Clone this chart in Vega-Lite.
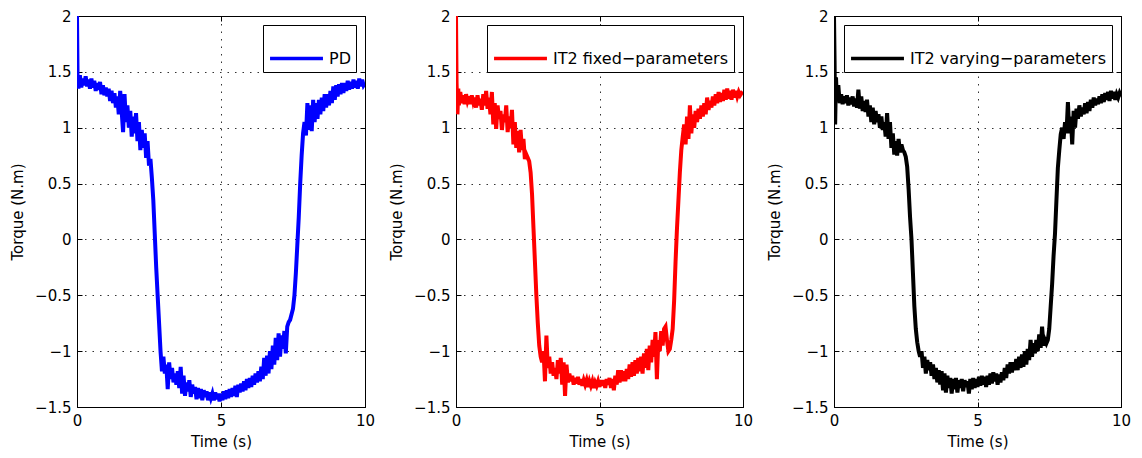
{
  "$schema": "https://vega.github.io/schema/vega-lite/v6.json",
  "padding": {"left": 10, "top": 9, "right": 5, "bottom": 5},
  "background": "white",
  "config": {
    "view": {"stroke": null},
    "font": "DejaVu Sans",
    "axis": {"labelFont": "DejaVu Sans", "titleFont": "DejaVu Sans", "labelFontSize": 15, "titleFontSize": 15, "titleFontWeight": "normal", "labelColor": "black", "titleColor": "black", "domainColor": "black", "tickColor": "black", "gridColor": "#333333", "gridDash": [1.5, 6], "gridOpacity": 1, "tickSize": -5, "domainWidth": 1, "labelPadding": 11, "format": "~f", "labelFlush": false},
    "legend": {"orient": "top-right", "offset": 9, "strokeColor": "black", "fillColor": "white", "padding": 5, "symbolType": "stroke", "symbolSize": 2800, "symbolStrokeWidth": 3.5, "labelFont": "DejaVu Sans", "labelFontSize": 16, "labelColor": "black", "labelLimit": 400, "title": null, "cornerRadius": 0}
  },
  "data": {"values": [
{"s":"PD","t":0,"y":2.0},{"s":"PD","t":0.02,"y":1.45},{"s":"PD","t":0.05,"y":1.35},{"s":"PD","t":0.1,"y":1.47},{"s":"PD","t":0.15,"y":1.36},{"s":"PD","t":0.2,"y":1.44},{"s":"PD","t":0.25,"y":1.38},{"s":"PD","t":0.3,"y":1.46},{"s":"PD","t":0.35,"y":1.37},{"s":"PD","t":0.4,"y":1.43},{"s":"PD","t":0.45,"y":1.35},{"s":"PD","t":0.5,"y":1.44},{"s":"PD","t":0.55,"y":1.36},{"s":"PD","t":0.6,"y":1.42},{"s":"PD","t":0.65,"y":1.33},{"s":"PD","t":0.7,"y":1.40},{"s":"PD","t":0.75,"y":1.34},{"s":"PD","t":0.8,"y":1.41},{"s":"PD","t":0.85,"y":1.30},{"s":"PD","t":0.9,"y":1.38},{"s":"PD","t":0.95,"y":1.29},{"s":"PD","t":1.0,"y":1.36},{"s":"PD","t":1.05,"y":1.28},{"s":"PD","t":1.1,"y":1.35},{"s":"PD","t":1.15,"y":1.24},{"s":"PD","t":1.2,"y":1.33},{"s":"PD","t":1.25,"y":1.22},{"s":"PD","t":1.3,"y":1.31},{"s":"PD","t":1.35,"y":1.18},{"s":"PD","t":1.4,"y":1.28},{"s":"PD","t":1.45,"y":1.12},{"s":"PD","t":1.5,"y":1.33},{"s":"PD","t":1.55,"y":1.15},{"s":"PD","t":1.6,"y":0.96},{"s":"PD","t":1.65,"y":1.30},{"s":"PD","t":1.7,"y":1.05},{"s":"PD","t":1.75,"y":1.20},{"s":"PD","t":1.8,"y":1.0},{"s":"PD","t":1.85,"y":1.15},{"s":"PD","t":1.9,"y":0.92},{"s":"PD","t":1.95,"y":1.10},{"s":"PD","t":2.0,"y":0.95},{"s":"PD","t":2.05,"y":1.13},{"s":"PD","t":2.1,"y":0.88},{"s":"PD","t":2.15,"y":1.05},{"s":"PD","t":2.2,"y":0.80},{"s":"PD","t":2.25,"y":0.98},{"s":"PD","t":2.3,"y":0.82},{"s":"PD","t":2.35,"y":0.95},{"s":"PD","t":2.4,"y":0.73},{"s":"PD","t":2.45,"y":0.88},{"s":"PD","t":2.5,"y":0.66},{"s":"PD","t":2.55,"y":0.72},{"s":"PD","t":2.6,"y":0.55},{"s":"PD","t":2.65,"y":0.35},{"s":"PD","t":2.7,"y":0.05},{"s":"PD","t":2.75,"y":-0.25},{"s":"PD","t":2.8,"y":-0.5},{"s":"PD","t":2.85,"y":-0.75},{"s":"PD","t":2.9,"y":-1.0},{"s":"PD","t":2.95,"y":-1.18},{"s":"PD","t":3.0,"y":-1.05},{"s":"PD","t":3.05,"y":-1.2},{"s":"PD","t":3.1,"y":-1.12},{"s":"PD","t":3.15,"y":-1.34},{"s":"PD","t":3.2,"y":-1.1},{"s":"PD","t":3.25,"y":-1.25},{"s":"PD","t":3.3,"y":-1.15},{"s":"PD","t":3.35,"y":-1.28},{"s":"PD","t":3.4,"y":-1.2},{"s":"PD","t":3.45,"y":-1.3},{"s":"PD","t":3.5,"y":-1.18},{"s":"PD","t":3.55,"y":-1.33},{"s":"PD","t":3.6,"y":-1.14},{"s":"PD","t":3.65,"y":-1.38},{"s":"PD","t":3.7,"y":-1.22},{"s":"PD","t":3.75,"y":-1.4},{"s":"PD","t":3.8,"y":-1.28},{"s":"PD","t":3.85,"y":-1.36},{"s":"PD","t":3.9,"y":-1.26},{"s":"PD","t":3.95,"y":-1.41},{"s":"PD","t":4.0,"y":-1.3},{"s":"PD","t":4.05,"y":-1.38},{"s":"PD","t":4.1,"y":-1.32},{"s":"PD","t":4.15,"y":-1.43},{"s":"PD","t":4.2,"y":-1.33},{"s":"PD","t":4.25,"y":-1.42},{"s":"PD","t":4.3,"y":-1.34},{"s":"PD","t":4.35,"y":-1.44},{"s":"PD","t":4.4,"y":-1.35},{"s":"PD","t":4.45,"y":-1.41},{"s":"PD","t":4.5,"y":-1.36},{"s":"PD","t":4.55,"y":-1.44},{"s":"PD","t":4.6,"y":-1.37},{"s":"PD","t":4.65,"y":-1.42},{"s":"PD","t":4.7,"y":-1.38},{"s":"PD","t":4.75,"y":-1.44},{"s":"PD","t":4.8,"y":-1.37},{"s":"PD","t":4.85,"y":-1.43},{"s":"PD","t":4.9,"y":-1.38},{"s":"PD","t":4.95,"y":-1.45},{"s":"PD","t":5.0,"y":-1.38},{"s":"PD","t":5.05,"y":-1.44},{"s":"PD","t":5.1,"y":-1.36},{"s":"PD","t":5.15,"y":-1.43},{"s":"PD","t":5.2,"y":-1.35},{"s":"PD","t":5.25,"y":-1.42},{"s":"PD","t":5.3,"y":-1.34},{"s":"PD","t":5.35,"y":-1.41},{"s":"PD","t":5.4,"y":-1.33},{"s":"PD","t":5.45,"y":-1.4},{"s":"PD","t":5.5,"y":-1.31},{"s":"PD","t":5.55,"y":-1.41},{"s":"PD","t":5.6,"y":-1.3},{"s":"PD","t":5.65,"y":-1.37},{"s":"PD","t":5.7,"y":-1.29},{"s":"PD","t":5.75,"y":-1.36},{"s":"PD","t":5.8,"y":-1.27},{"s":"PD","t":5.85,"y":-1.35},{"s":"PD","t":5.9,"y":-1.25},{"s":"PD","t":5.95,"y":-1.33},{"s":"PD","t":6.0,"y":-1.24},{"s":"PD","t":6.05,"y":-1.32},{"s":"PD","t":6.1,"y":-1.22},{"s":"PD","t":6.15,"y":-1.3},{"s":"PD","t":6.2,"y":-1.2},{"s":"PD","t":6.25,"y":-1.28},{"s":"PD","t":6.3,"y":-1.18},{"s":"PD","t":6.35,"y":-1.27},{"s":"PD","t":6.4,"y":-1.14},{"s":"PD","t":6.45,"y":-1.25},{"s":"PD","t":6.5,"y":-1.06},{"s":"PD","t":6.55,"y":-1.22},{"s":"PD","t":6.6,"y":-1.04},{"s":"PD","t":6.65,"y":-1.2},{"s":"PD","t":6.7,"y":-1.0},{"s":"PD","t":6.75,"y":-1.16},{"s":"PD","t":6.8,"y":-0.95},{"s":"PD","t":6.85,"y":-1.12},{"s":"PD","t":6.9,"y":-0.88},{"s":"PD","t":6.95,"y":-1.08},{"s":"PD","t":7.0,"y":-0.84},{"s":"PD","t":7.05,"y":-1.05},{"s":"PD","t":7.1,"y":-0.86},{"s":"PD","t":7.15,"y":-0.98},{"s":"PD","t":7.2,"y":-0.82},{"s":"PD","t":7.25,"y":-1.02},{"s":"PD","t":7.3,"y":-0.78},{"s":"PD","t":7.35,"y":-0.74},{"s":"PD","t":7.4,"y":-0.72},{"s":"PD","t":7.5,"y":-0.62},{"s":"PD","t":7.55,"y":-0.5},{"s":"PD","t":7.6,"y":-0.3},{"s":"PD","t":7.65,"y":-0.05},{"s":"PD","t":7.7,"y":0.2},{"s":"PD","t":7.75,"y":0.5},{"s":"PD","t":7.8,"y":0.75},{"s":"PD","t":7.85,"y":0.95},{"s":"PD","t":7.9,"y":1.05},{"s":"PD","t":7.95,"y":0.93},{"s":"PD","t":8.0,"y":1.22},{"s":"PD","t":8.05,"y":0.98},{"s":"PD","t":8.1,"y":1.2},{"s":"PD","t":8.15,"y":0.97},{"s":"PD","t":8.2,"y":1.25},{"s":"PD","t":8.25,"y":1.05},{"s":"PD","t":8.3,"y":1.22},{"s":"PD","t":8.35,"y":1.08},{"s":"PD","t":8.4,"y":1.25},{"s":"PD","t":8.45,"y":1.12},{"s":"PD","t":8.5,"y":1.27},{"s":"PD","t":8.55,"y":1.15},{"s":"PD","t":8.6,"y":1.3},{"s":"PD","t":8.65,"y":1.18},{"s":"PD","t":8.7,"y":1.3},{"s":"PD","t":8.75,"y":1.2},{"s":"PD","t":8.8,"y":1.33},{"s":"PD","t":8.85,"y":1.22},{"s":"PD","t":8.9,"y":1.37},{"s":"PD","t":8.95,"y":1.25},{"s":"PD","t":9.0,"y":1.38},{"s":"PD","t":9.05,"y":1.28},{"s":"PD","t":9.1,"y":1.39},{"s":"PD","t":9.15,"y":1.3},{"s":"PD","t":9.2,"y":1.4},{"s":"PD","t":9.25,"y":1.31},{"s":"PD","t":9.3,"y":1.4},{"s":"PD","t":9.35,"y":1.33},{"s":"PD","t":9.4,"y":1.42},{"s":"PD","t":9.45,"y":1.34},{"s":"PD","t":9.5,"y":1.41},{"s":"PD","t":9.55,"y":1.35},{"s":"PD","t":9.6,"y":1.43},{"s":"PD","t":9.65,"y":1.36},{"s":"PD","t":9.7,"y":1.42},{"s":"PD","t":9.75,"y":1.35},{"s":"PD","t":9.8,"y":1.44},{"s":"PD","t":9.85,"y":1.37},{"s":"PD","t":9.9,"y":1.43},{"s":"PD","t":9.95,"y":1.38},{"s":"PD","t":10.0,"y":1.4},
{"s":"IT2 fixed−parameters","t":0,"y":2.0},{"s":"IT2 fixed−parameters","t":0.02,"y":1.4},{"s":"IT2 fixed−parameters","t":0.05,"y":1.12},{"s":"IT2 fixed−parameters","t":0.08,"y":1.35},{"s":"IT2 fixed−parameters","t":0.1,"y":1.2},{"s":"IT2 fixed−parameters","t":0.15,"y":1.32},{"s":"IT2 fixed−parameters","t":0.2,"y":1.22},{"s":"IT2 fixed−parameters","t":0.25,"y":1.29},{"s":"IT2 fixed−parameters","t":0.3,"y":1.21},{"s":"IT2 fixed−parameters","t":0.35,"y":1.3},{"s":"IT2 fixed−parameters","t":0.4,"y":1.24},{"s":"IT2 fixed−parameters","t":0.45,"y":1.28},{"s":"IT2 fixed−parameters","t":0.5,"y":1.21},{"s":"IT2 fixed−parameters","t":0.55,"y":1.29},{"s":"IT2 fixed−parameters","t":0.6,"y":1.23},{"s":"IT2 fixed−parameters","t":0.65,"y":1.27},{"s":"IT2 fixed−parameters","t":0.7,"y":1.18},{"s":"IT2 fixed−parameters","t":0.75,"y":1.29},{"s":"IT2 fixed−parameters","t":0.8,"y":1.2},{"s":"IT2 fixed−parameters","t":0.85,"y":1.26},{"s":"IT2 fixed−parameters","t":0.9,"y":1.16},{"s":"IT2 fixed−parameters","t":0.95,"y":1.3},{"s":"IT2 fixed−parameters","t":1.0,"y":1.2},{"s":"IT2 fixed−parameters","t":1.05,"y":1.33},{"s":"IT2 fixed−parameters","t":1.1,"y":1.17},{"s":"IT2 fixed−parameters","t":1.15,"y":1.27},{"s":"IT2 fixed−parameters","t":1.2,"y":1.12},{"s":"IT2 fixed−parameters","t":1.25,"y":1.32},{"s":"IT2 fixed−parameters","t":1.3,"y":1.03},{"s":"IT2 fixed−parameters","t":1.35,"y":1.22},{"s":"IT2 fixed−parameters","t":1.4,"y":0.99},{"s":"IT2 fixed−parameters","t":1.45,"y":1.2},{"s":"IT2 fixed−parameters","t":1.5,"y":1.08},{"s":"IT2 fixed−parameters","t":1.55,"y":1.15},{"s":"IT2 fixed−parameters","t":1.6,"y":0.98},{"s":"IT2 fixed−parameters","t":1.65,"y":1.12},{"s":"IT2 fixed−parameters","t":1.7,"y":1.05},{"s":"IT2 fixed−parameters","t":1.75,"y":1.2},{"s":"IT2 fixed−parameters","t":1.8,"y":0.96},{"s":"IT2 fixed−parameters","t":1.85,"y":1.1},{"s":"IT2 fixed−parameters","t":1.9,"y":1.0},{"s":"IT2 fixed−parameters","t":1.95,"y":1.16},{"s":"IT2 fixed−parameters","t":2.0,"y":0.85},{"s":"IT2 fixed−parameters","t":2.05,"y":1.05},{"s":"IT2 fixed−parameters","t":2.1,"y":0.82},{"s":"IT2 fixed−parameters","t":2.15,"y":0.97},{"s":"IT2 fixed−parameters","t":2.2,"y":0.78},{"s":"IT2 fixed−parameters","t":2.25,"y":0.98},{"s":"IT2 fixed−parameters","t":2.3,"y":0.8},{"s":"IT2 fixed−parameters","t":2.35,"y":0.9},{"s":"IT2 fixed−parameters","t":2.4,"y":0.72},{"s":"IT2 fixed−parameters","t":2.45,"y":0.76},{"s":"IT2 fixed−parameters","t":2.5,"y":0.73},{"s":"IT2 fixed−parameters","t":2.55,"y":0.7},{"s":"IT2 fixed−parameters","t":2.6,"y":0.6},{"s":"IT2 fixed−parameters","t":2.65,"y":0.4},{"s":"IT2 fixed−parameters","t":2.7,"y":0.1},{"s":"IT2 fixed−parameters","t":2.75,"y":-0.2},{"s":"IT2 fixed−parameters","t":2.8,"y":-0.5},{"s":"IT2 fixed−parameters","t":2.85,"y":-0.75},{"s":"IT2 fixed−parameters","t":2.9,"y":-0.95},{"s":"IT2 fixed−parameters","t":2.95,"y":-1.05},{"s":"IT2 fixed−parameters","t":3.0,"y":-1.1},{"s":"IT2 fixed−parameters","t":3.05,"y":-1.0},{"s":"IT2 fixed−parameters","t":3.1,"y":-1.27},{"s":"IT2 fixed−parameters","t":3.15,"y":-0.86},{"s":"IT2 fixed−parameters","t":3.2,"y":-1.15},{"s":"IT2 fixed−parameters","t":3.25,"y":-1.05},{"s":"IT2 fixed−parameters","t":3.3,"y":-1.2},{"s":"IT2 fixed−parameters","t":3.35,"y":-1.1},{"s":"IT2 fixed−parameters","t":3.4,"y":-1.22},{"s":"IT2 fixed−parameters","t":3.45,"y":-1.15},{"s":"IT2 fixed−parameters","t":3.5,"y":-1.25},{"s":"IT2 fixed−parameters","t":3.55,"y":-1.08},{"s":"IT2 fixed−parameters","t":3.6,"y":-1.2},{"s":"IT2 fixed−parameters","t":3.65,"y":-1.06},{"s":"IT2 fixed−parameters","t":3.7,"y":-1.3},{"s":"IT2 fixed−parameters","t":3.75,"y":-1.1},{"s":"IT2 fixed−parameters","t":3.8,"y":-1.4},{"s":"IT2 fixed−parameters","t":3.85,"y":-1.12},{"s":"IT2 fixed−parameters","t":3.9,"y":-1.28},{"s":"IT2 fixed−parameters","t":3.95,"y":-1.2},{"s":"IT2 fixed−parameters","t":4.0,"y":-1.27},{"s":"IT2 fixed−parameters","t":4.05,"y":-1.22},{"s":"IT2 fixed−parameters","t":4.1,"y":-1.3},{"s":"IT2 fixed−parameters","t":4.15,"y":-1.24},{"s":"IT2 fixed−parameters","t":4.2,"y":-1.29},{"s":"IT2 fixed−parameters","t":4.25,"y":-1.23},{"s":"IT2 fixed−parameters","t":4.3,"y":-1.3},{"s":"IT2 fixed−parameters","t":4.35,"y":-1.25},{"s":"IT2 fixed−parameters","t":4.4,"y":-1.31},{"s":"IT2 fixed−parameters","t":4.45,"y":-1.26},{"s":"IT2 fixed−parameters","t":4.5,"y":-1.3},{"s":"IT2 fixed−parameters","t":4.55,"y":-1.26},{"s":"IT2 fixed−parameters","t":4.6,"y":-1.32},{"s":"IT2 fixed−parameters","t":4.65,"y":-1.27},{"s":"IT2 fixed−parameters","t":4.7,"y":-1.31},{"s":"IT2 fixed−parameters","t":4.75,"y":-1.27},{"s":"IT2 fixed−parameters","t":4.8,"y":-1.33},{"s":"IT2 fixed−parameters","t":4.85,"y":-1.28},{"s":"IT2 fixed−parameters","t":4.9,"y":-1.31},{"s":"IT2 fixed−parameters","t":4.95,"y":-1.27},{"s":"IT2 fixed−parameters","t":5.0,"y":-1.32},{"s":"IT2 fixed−parameters","t":5.05,"y":-1.26},{"s":"IT2 fixed−parameters","t":5.1,"y":-1.31},{"s":"IT2 fixed−parameters","t":5.15,"y":-1.26},{"s":"IT2 fixed−parameters","t":5.2,"y":-1.33},{"s":"IT2 fixed−parameters","t":5.25,"y":-1.25},{"s":"IT2 fixed−parameters","t":5.3,"y":-1.3},{"s":"IT2 fixed−parameters","t":5.35,"y":-1.24},{"s":"IT2 fixed−parameters","t":5.4,"y":-1.33},{"s":"IT2 fixed−parameters","t":5.45,"y":-1.25},{"s":"IT2 fixed−parameters","t":5.5,"y":-1.35},{"s":"IT2 fixed−parameters","t":5.55,"y":-1.22},{"s":"IT2 fixed−parameters","t":5.6,"y":-1.3},{"s":"IT2 fixed−parameters","t":5.65,"y":-1.17},{"s":"IT2 fixed−parameters","t":5.7,"y":-1.28},{"s":"IT2 fixed−parameters","t":5.75,"y":-1.17},{"s":"IT2 fixed−parameters","t":5.8,"y":-1.27},{"s":"IT2 fixed−parameters","t":5.85,"y":-1.18},{"s":"IT2 fixed−parameters","t":5.9,"y":-1.27},{"s":"IT2 fixed−parameters","t":5.95,"y":-1.16},{"s":"IT2 fixed−parameters","t":6.0,"y":-1.25},{"s":"IT2 fixed−parameters","t":6.05,"y":-1.12},{"s":"IT2 fixed−parameters","t":6.1,"y":-1.23},{"s":"IT2 fixed−parameters","t":6.15,"y":-1.1},{"s":"IT2 fixed−parameters","t":6.2,"y":-1.22},{"s":"IT2 fixed−parameters","t":6.25,"y":-1.08},{"s":"IT2 fixed−parameters","t":6.3,"y":-1.2},{"s":"IT2 fixed−parameters","t":6.35,"y":-1.06},{"s":"IT2 fixed−parameters","t":6.4,"y":-1.18},{"s":"IT2 fixed−parameters","t":6.45,"y":-1.05},{"s":"IT2 fixed−parameters","t":6.5,"y":-1.2},{"s":"IT2 fixed−parameters","t":6.55,"y":-1.02},{"s":"IT2 fixed−parameters","t":6.6,"y":-1.15},{"s":"IT2 fixed−parameters","t":6.65,"y":-0.98},{"s":"IT2 fixed−parameters","t":6.7,"y":-1.17},{"s":"IT2 fixed−parameters","t":6.75,"y":-0.95},{"s":"IT2 fixed−parameters","t":6.8,"y":-1.1},{"s":"IT2 fixed−parameters","t":6.85,"y":-0.9},{"s":"IT2 fixed−parameters","t":6.9,"y":-1.05},{"s":"IT2 fixed−parameters","t":6.95,"y":-0.83},{"s":"IT2 fixed−parameters","t":7.0,"y":-1.25},{"s":"IT2 fixed−parameters","t":7.05,"y":-0.9},{"s":"IT2 fixed−parameters","t":7.1,"y":-1.0},{"s":"IT2 fixed−parameters","t":7.15,"y":-0.82},{"s":"IT2 fixed−parameters","t":7.2,"y":-0.95},{"s":"IT2 fixed−parameters","t":7.25,"y":-0.8},{"s":"IT2 fixed−parameters","t":7.3,"y":-0.78},{"s":"IT2 fixed−parameters","t":7.35,"y":-0.9},{"s":"IT2 fixed−parameters","t":7.4,"y":-1.0},{"s":"IT2 fixed−parameters","t":7.45,"y":-0.98},{"s":"IT2 fixed−parameters","t":7.5,"y":-0.9},{"s":"IT2 fixed−parameters","t":7.55,"y":-0.8},{"s":"IT2 fixed−parameters","t":7.6,"y":-0.55},{"s":"IT2 fixed−parameters","t":7.65,"y":-0.2},{"s":"IT2 fixed−parameters","t":7.7,"y":0.1},{"s":"IT2 fixed−parameters","t":7.75,"y":0.35},{"s":"IT2 fixed−parameters","t":7.8,"y":0.6},{"s":"IT2 fixed−parameters","t":7.85,"y":0.8},{"s":"IT2 fixed−parameters","t":7.9,"y":0.92},{"s":"IT2 fixed−parameters","t":7.95,"y":1.03},{"s":"IT2 fixed−parameters","t":8.0,"y":0.85},{"s":"IT2 fixed−parameters","t":8.05,"y":1.1},{"s":"IT2 fixed−parameters","t":8.1,"y":0.9},{"s":"IT2 fixed−parameters","t":8.15,"y":1.2},{"s":"IT2 fixed−parameters","t":8.2,"y":0.95},{"s":"IT2 fixed−parameters","t":8.25,"y":1.12},{"s":"IT2 fixed−parameters","t":8.3,"y":1.0},{"s":"IT2 fixed−parameters","t":8.35,"y":1.15},{"s":"IT2 fixed−parameters","t":8.4,"y":1.05},{"s":"IT2 fixed−parameters","t":8.45,"y":1.17},{"s":"IT2 fixed−parameters","t":8.5,"y":1.08},{"s":"IT2 fixed−parameters","t":8.55,"y":1.2},{"s":"IT2 fixed−parameters","t":8.6,"y":1.1},{"s":"IT2 fixed−parameters","t":8.65,"y":1.22},{"s":"IT2 fixed−parameters","t":8.7,"y":1.12},{"s":"IT2 fixed−parameters","t":8.75,"y":1.27},{"s":"IT2 fixed−parameters","t":8.8,"y":1.16},{"s":"IT2 fixed−parameters","t":8.85,"y":1.24},{"s":"IT2 fixed−parameters","t":8.9,"y":1.18},{"s":"IT2 fixed−parameters","t":8.95,"y":1.28},{"s":"IT2 fixed−parameters","t":9.0,"y":1.2},{"s":"IT2 fixed−parameters","t":9.05,"y":1.3},{"s":"IT2 fixed−parameters","t":9.1,"y":1.22},{"s":"IT2 fixed−parameters","t":9.15,"y":1.32},{"s":"IT2 fixed−parameters","t":9.2,"y":1.23},{"s":"IT2 fixed−parameters","t":9.25,"y":1.31},{"s":"IT2 fixed−parameters","t":9.3,"y":1.24},{"s":"IT2 fixed−parameters","t":9.35,"y":1.34},{"s":"IT2 fixed−parameters","t":9.4,"y":1.25},{"s":"IT2 fixed−parameters","t":9.45,"y":1.35},{"s":"IT2 fixed−parameters","t":9.5,"y":1.26},{"s":"IT2 fixed−parameters","t":9.55,"y":1.33},{"s":"IT2 fixed−parameters","t":9.6,"y":1.25},{"s":"IT2 fixed−parameters","t":9.65,"y":1.34},{"s":"IT2 fixed−parameters","t":9.7,"y":1.27},{"s":"IT2 fixed−parameters","t":9.75,"y":1.33},{"s":"IT2 fixed−parameters","t":9.8,"y":1.28},{"s":"IT2 fixed−parameters","t":9.85,"y":1.32},{"s":"IT2 fixed−parameters","t":9.9,"y":1.29},{"s":"IT2 fixed−parameters","t":9.95,"y":1.31},{"s":"IT2 fixed−parameters","t":10.0,"y":1.3},
{"s":"IT2 varying−parameters","t":0,"y":2.0},{"s":"IT2 varying−parameters","t":0.02,"y":1.6},{"s":"IT2 varying−parameters","t":0.04,"y":1.03},{"s":"IT2 varying−parameters","t":0.07,"y":1.45},{"s":"IT2 varying−parameters","t":0.1,"y":1.25},{"s":"IT2 varying−parameters","t":0.15,"y":1.38},{"s":"IT2 varying−parameters","t":0.2,"y":1.22},{"s":"IT2 varying−parameters","t":0.25,"y":1.3},{"s":"IT2 varying−parameters","t":0.3,"y":1.21},{"s":"IT2 varying−parameters","t":0.35,"y":1.28},{"s":"IT2 varying−parameters","t":0.4,"y":1.22},{"s":"IT2 varying−parameters","t":0.45,"y":1.29},{"s":"IT2 varying−parameters","t":0.5,"y":1.2},{"s":"IT2 varying−parameters","t":0.55,"y":1.27},{"s":"IT2 varying−parameters","t":0.6,"y":1.21},{"s":"IT2 varying−parameters","t":0.65,"y":1.28},{"s":"IT2 varying−parameters","t":0.7,"y":1.19},{"s":"IT2 varying−parameters","t":0.75,"y":1.26},{"s":"IT2 varying−parameters","t":0.8,"y":1.18},{"s":"IT2 varying−parameters","t":0.85,"y":1.34},{"s":"IT2 varying−parameters","t":0.9,"y":1.17},{"s":"IT2 varying−parameters","t":0.95,"y":1.28},{"s":"IT2 varying−parameters","t":1.0,"y":1.15},{"s":"IT2 varying−parameters","t":1.05,"y":1.24},{"s":"IT2 varying−parameters","t":1.1,"y":1.14},{"s":"IT2 varying−parameters","t":1.15,"y":1.25},{"s":"IT2 varying−parameters","t":1.2,"y":1.1},{"s":"IT2 varying−parameters","t":1.25,"y":1.2},{"s":"IT2 varying−parameters","t":1.3,"y":1.05},{"s":"IT2 varying−parameters","t":1.35,"y":1.18},{"s":"IT2 varying−parameters","t":1.4,"y":1.03},{"s":"IT2 varying−parameters","t":1.45,"y":1.15},{"s":"IT2 varying−parameters","t":1.5,"y":1.05},{"s":"IT2 varying−parameters","t":1.55,"y":1.12},{"s":"IT2 varying−parameters","t":1.6,"y":1.0},{"s":"IT2 varying−parameters","t":1.65,"y":1.1},{"s":"IT2 varying−parameters","t":1.7,"y":0.98},{"s":"IT2 varying−parameters","t":1.75,"y":1.05},{"s":"IT2 varying−parameters","t":1.8,"y":0.92},{"s":"IT2 varying−parameters","t":1.85,"y":1.13},{"s":"IT2 varying−parameters","t":1.9,"y":0.9},{"s":"IT2 varying−parameters","t":1.95,"y":1.05},{"s":"IT2 varying−parameters","t":2.0,"y":0.82},{"s":"IT2 varying−parameters","t":2.05,"y":0.95},{"s":"IT2 varying−parameters","t":2.1,"y":0.76},{"s":"IT2 varying−parameters","t":2.15,"y":0.88},{"s":"IT2 varying−parameters","t":2.2,"y":0.75},{"s":"IT2 varying−parameters","t":2.25,"y":0.9},{"s":"IT2 varying−parameters","t":2.3,"y":0.78},{"s":"IT2 varying−parameters","t":2.35,"y":0.85},{"s":"IT2 varying−parameters","t":2.4,"y":0.8},{"s":"IT2 varying−parameters","t":2.45,"y":0.78},{"s":"IT2 varying−parameters","t":2.5,"y":0.74},{"s":"IT2 varying−parameters","t":2.55,"y":0.65},{"s":"IT2 varying−parameters","t":2.6,"y":0.45},{"s":"IT2 varying−parameters","t":2.65,"y":0.2},{"s":"IT2 varying−parameters","t":2.7,"y":0.0},{"s":"IT2 varying−parameters","t":2.75,"y":-0.3},{"s":"IT2 varying−parameters","t":2.8,"y":-0.6},{"s":"IT2 varying−parameters","t":2.85,"y":-0.8},{"s":"IT2 varying−parameters","t":2.9,"y":-0.92},{"s":"IT2 varying−parameters","t":2.95,"y":-1.0},{"s":"IT2 varying−parameters","t":3.0,"y":-1.05},{"s":"IT2 varying−parameters","t":3.05,"y":-1.0},{"s":"IT2 varying−parameters","t":3.1,"y":-1.15},{"s":"IT2 varying−parameters","t":3.15,"y":-1.05},{"s":"IT2 varying−parameters","t":3.2,"y":-1.2},{"s":"IT2 varying−parameters","t":3.25,"y":-1.08},{"s":"IT2 varying−parameters","t":3.3,"y":-1.17},{"s":"IT2 varying−parameters","t":3.35,"y":-1.1},{"s":"IT2 varying−parameters","t":3.4,"y":-1.22},{"s":"IT2 varying−parameters","t":3.45,"y":-1.12},{"s":"IT2 varying−parameters","t":3.5,"y":-1.25},{"s":"IT2 varying−parameters","t":3.55,"y":-1.15},{"s":"IT2 varying−parameters","t":3.6,"y":-1.28},{"s":"IT2 varying−parameters","t":3.65,"y":-1.17},{"s":"IT2 varying−parameters","t":3.7,"y":-1.3},{"s":"IT2 varying−parameters","t":3.75,"y":-1.18},{"s":"IT2 varying−parameters","t":3.8,"y":-1.35},{"s":"IT2 varying−parameters","t":3.85,"y":-1.2},{"s":"IT2 varying−parameters","t":3.9,"y":-1.37},{"s":"IT2 varying−parameters","t":3.95,"y":-1.22},{"s":"IT2 varying−parameters","t":4.0,"y":-1.33},{"s":"IT2 varying−parameters","t":4.05,"y":-1.24},{"s":"IT2 varying−parameters","t":4.1,"y":-1.38},{"s":"IT2 varying−parameters","t":4.15,"y":-1.25},{"s":"IT2 varying−parameters","t":4.2,"y":-1.34},{"s":"IT2 varying−parameters","t":4.25,"y":-1.24},{"s":"IT2 varying−parameters","t":4.3,"y":-1.37},{"s":"IT2 varying−parameters","t":4.35,"y":-1.26},{"s":"IT2 varying−parameters","t":4.4,"y":-1.33},{"s":"IT2 varying−parameters","t":4.45,"y":-1.25},{"s":"IT2 varying−parameters","t":4.5,"y":-1.36},{"s":"IT2 varying−parameters","t":4.55,"y":-1.26},{"s":"IT2 varying−parameters","t":4.6,"y":-1.32},{"s":"IT2 varying−parameters","t":4.65,"y":-1.27},{"s":"IT2 varying−parameters","t":4.7,"y":-1.38},{"s":"IT2 varying−parameters","t":4.75,"y":-1.25},{"s":"IT2 varying−parameters","t":4.8,"y":-1.34},{"s":"IT2 varying−parameters","t":4.85,"y":-1.24},{"s":"IT2 varying−parameters","t":4.9,"y":-1.33},{"s":"IT2 varying−parameters","t":4.95,"y":-1.25},{"s":"IT2 varying−parameters","t":5.0,"y":-1.32},{"s":"IT2 varying−parameters","t":5.05,"y":-1.23},{"s":"IT2 varying−parameters","t":5.1,"y":-1.31},{"s":"IT2 varying−parameters","t":5.15,"y":-1.22},{"s":"IT2 varying−parameters","t":5.2,"y":-1.3},{"s":"IT2 varying−parameters","t":5.25,"y":-1.23},{"s":"IT2 varying−parameters","t":5.3,"y":-1.32},{"s":"IT2 varying−parameters","t":5.35,"y":-1.22},{"s":"IT2 varying−parameters","t":5.4,"y":-1.3},{"s":"IT2 varying−parameters","t":5.45,"y":-1.2},{"s":"IT2 varying−parameters","t":5.5,"y":-1.29},{"s":"IT2 varying−parameters","t":5.55,"y":-1.19},{"s":"IT2 varying−parameters","t":5.6,"y":-1.27},{"s":"IT2 varying−parameters","t":5.65,"y":-1.2},{"s":"IT2 varying−parameters","t":5.7,"y":-1.3},{"s":"IT2 varying−parameters","t":5.75,"y":-1.21},{"s":"IT2 varying−parameters","t":5.8,"y":-1.28},{"s":"IT2 varying−parameters","t":5.85,"y":-1.19},{"s":"IT2 varying−parameters","t":5.9,"y":-1.26},{"s":"IT2 varying−parameters","t":5.95,"y":-1.15},{"s":"IT2 varying−parameters","t":6.0,"y":-1.24},{"s":"IT2 varying−parameters","t":6.05,"y":-1.12},{"s":"IT2 varying−parameters","t":6.1,"y":-1.2},{"s":"IT2 varying−parameters","t":6.15,"y":-1.1},{"s":"IT2 varying−parameters","t":6.2,"y":-1.19},{"s":"IT2 varying−parameters","t":6.25,"y":-1.1},{"s":"IT2 varying−parameters","t":6.3,"y":-1.17},{"s":"IT2 varying−parameters","t":6.35,"y":-1.07},{"s":"IT2 varying−parameters","t":6.4,"y":-1.17},{"s":"IT2 varying−parameters","t":6.45,"y":-1.05},{"s":"IT2 varying−parameters","t":6.5,"y":-1.15},{"s":"IT2 varying−parameters","t":6.55,"y":-1.03},{"s":"IT2 varying−parameters","t":6.6,"y":-1.14},{"s":"IT2 varying−parameters","t":6.65,"y":-1.0},{"s":"IT2 varying−parameters","t":6.7,"y":-1.12},{"s":"IT2 varying−parameters","t":6.75,"y":-0.98},{"s":"IT2 varying−parameters","t":6.8,"y":-1.08},{"s":"IT2 varying−parameters","t":6.85,"y":-0.9},{"s":"IT2 varying−parameters","t":6.9,"y":-1.05},{"s":"IT2 varying−parameters","t":6.95,"y":-0.93},{"s":"IT2 varying−parameters","t":7.0,"y":-1.02},{"s":"IT2 varying−parameters","t":7.05,"y":-0.9},{"s":"IT2 varying−parameters","t":7.1,"y":-1.0},{"s":"IT2 varying−parameters","t":7.15,"y":-0.85},{"s":"IT2 varying−parameters","t":7.2,"y":-0.97},{"s":"IT2 varying−parameters","t":7.25,"y":-0.78},{"s":"IT2 varying−parameters","t":7.3,"y":-0.95},{"s":"IT2 varying−parameters","t":7.35,"y":-0.9},{"s":"IT2 varying−parameters","t":7.4,"y":-0.93},{"s":"IT2 varying−parameters","t":7.45,"y":-0.9},{"s":"IT2 varying−parameters","t":7.5,"y":-0.8},{"s":"IT2 varying−parameters","t":7.55,"y":-0.6},{"s":"IT2 varying−parameters","t":7.6,"y":-0.4},{"s":"IT2 varying−parameters","t":7.65,"y":-0.15},{"s":"IT2 varying−parameters","t":7.7,"y":0.05},{"s":"IT2 varying−parameters","t":7.75,"y":0.35},{"s":"IT2 varying−parameters","t":7.8,"y":0.64},{"s":"IT2 varying−parameters","t":7.85,"y":0.8},{"s":"IT2 varying−parameters","t":7.9,"y":0.94},{"s":"IT2 varying−parameters","t":7.95,"y":1.0},{"s":"IT2 varying−parameters","t":8.0,"y":0.9},{"s":"IT2 varying−parameters","t":8.05,"y":1.05},{"s":"IT2 varying−parameters","t":8.1,"y":0.95},{"s":"IT2 varying−parameters","t":8.15,"y":1.23},{"s":"IT2 varying−parameters","t":8.2,"y":0.95},{"s":"IT2 varying−parameters","t":8.25,"y":1.1},{"s":"IT2 varying−parameters","t":8.3,"y":0.85},{"s":"IT2 varying−parameters","t":8.35,"y":1.15},{"s":"IT2 varying−parameters","t":8.4,"y":1.0},{"s":"IT2 varying−parameters","t":8.45,"y":1.17},{"s":"IT2 varying−parameters","t":8.5,"y":1.08},{"s":"IT2 varying−parameters","t":8.55,"y":1.2},{"s":"IT2 varying−parameters","t":8.6,"y":1.1},{"s":"IT2 varying−parameters","t":8.65,"y":1.18},{"s":"IT2 varying−parameters","t":8.7,"y":1.12},{"s":"IT2 varying−parameters","t":8.75,"y":1.22},{"s":"IT2 varying−parameters","t":8.8,"y":1.13},{"s":"IT2 varying−parameters","t":8.85,"y":1.23},{"s":"IT2 varying−parameters","t":8.9,"y":1.15},{"s":"IT2 varying−parameters","t":8.95,"y":1.25},{"s":"IT2 varying−parameters","t":9.0,"y":1.18},{"s":"IT2 varying−parameters","t":9.05,"y":1.27},{"s":"IT2 varying−parameters","t":9.1,"y":1.2},{"s":"IT2 varying−parameters","t":9.15,"y":1.26},{"s":"IT2 varying−parameters","t":9.2,"y":1.21},{"s":"IT2 varying−parameters","t":9.25,"y":1.28},{"s":"IT2 varying−parameters","t":9.3,"y":1.22},{"s":"IT2 varying−parameters","t":9.35,"y":1.3},{"s":"IT2 varying−parameters","t":9.4,"y":1.23},{"s":"IT2 varying−parameters","t":9.45,"y":1.31},{"s":"IT2 varying−parameters","t":9.5,"y":1.25},{"s":"IT2 varying−parameters","t":9.55,"y":1.32},{"s":"IT2 varying−parameters","t":9.6,"y":1.24},{"s":"IT2 varying−parameters","t":9.65,"y":1.33},{"s":"IT2 varying−parameters","t":9.7,"y":1.26},{"s":"IT2 varying−parameters","t":9.75,"y":1.32},{"s":"IT2 varying−parameters","t":9.8,"y":1.25},{"s":"IT2 varying−parameters","t":9.85,"y":1.3},{"s":"IT2 varying−parameters","t":9.9,"y":1.27},{"s":"IT2 varying−parameters","t":9.95,"y":1.31},{"s":"IT2 varying−parameters","t":10.0,"y":1.28}
  ]},
  "spacing": 14,
  "resolve": {"scale": {"color": "independent"}},
  "hconcat": [
    {
      "width": 288, "height": 391,
      "transform": [{"filter": "datum.s === 'PD'"}],
      "layer": [
        {"mark": {"type": "line", "strokeWidth": 4, "clip": true},
         "encoding": {
           "x": {"field": "t", "type": "quantitative", "scale": {"domain": [0, 10], "nice": false}, "axis": {"title": "Time (s)", "values": [0, 5, 10], "grid": true, "titlePadding": 6}},
           "y": {"field": "y", "type": "quantitative", "scale": {"domain": [-1.5, 2], "nice": false}, "axis": {"title": "Torque (N.m)", "values": [-1.5, -1, -0.5, 0, 0.5, 1, 1.5, 2], "grid": true, "titlePadding": 9}},
           "color": {"field": "s", "type": "nominal", "scale": {"range": ["#0000ff"]}}
         }},
        {"mark": {"type": "line", "opacity": 0},
         "encoding": {
           "x": {"field": "t", "type": "quantitative", "axis": {"orient": "top", "title": null, "labels": false, "grid": false, "values": [0, 5, 10]}},
           "y": {"field": "y", "type": "quantitative", "axis": {"orient": "right", "title": null, "labels": false, "grid": false, "values": [-1.5, -1, -0.5, 0, 0.5, 1, 1.5, 2]}}
         }}
      ],
      "resolve": {"axis": {"x": "independent", "y": "independent"}}
    },
    {
      "width": 287, "height": 391,
      "transform": [{"filter": "datum.s === 'IT2 fixed−parameters'"}],
      "layer": [
        {"mark": {"type": "line", "strokeWidth": 4, "clip": true},
         "encoding": {
           "x": {"field": "t", "type": "quantitative", "scale": {"domain": [0, 10], "nice": false}, "axis": {"title": "Time (s)", "values": [0, 5, 10], "grid": true, "titlePadding": 6}},
           "y": {"field": "y", "type": "quantitative", "scale": {"domain": [-1.5, 2], "nice": false}, "axis": {"title": "Torque (N.m)", "values": [-1.5, -1, -0.5, 0, 0.5, 1, 1.5, 2], "grid": true, "titlePadding": 9}},
           "color": {"field": "s", "type": "nominal", "scale": {"range": ["#ff0000"]}}
         }},
        {"mark": {"type": "line", "opacity": 0},
         "encoding": {
           "x": {"field": "t", "type": "quantitative", "axis": {"orient": "top", "title": null, "labels": false, "grid": false, "values": [0, 5, 10]}},
           "y": {"field": "y", "type": "quantitative", "axis": {"orient": "right", "title": null, "labels": false, "grid": false, "values": [-1.5, -1, -0.5, 0, 0.5, 1, 1.5, 2]}}
         }}
      ],
      "resolve": {"axis": {"x": "independent", "y": "independent"}}
    },
    {
      "width": 287, "height": 391,
      "transform": [{"filter": "datum.s === 'IT2 varying−parameters'"}],
      "layer": [
        {"mark": {"type": "line", "strokeWidth": 4, "clip": true},
         "encoding": {
           "x": {"field": "t", "type": "quantitative", "scale": {"domain": [0, 10], "nice": false}, "axis": {"title": "Time (s)", "values": [0, 5, 10], "grid": true, "titlePadding": 6}},
           "y": {"field": "y", "type": "quantitative", "scale": {"domain": [-1.5, 2], "nice": false}, "axis": {"title": "Torque (N.m)", "values": [-1.5, -1, -0.5, 0, 0.5, 1, 1.5, 2], "grid": true, "titlePadding": 9}},
           "color": {"field": "s", "type": "nominal", "scale": {"range": ["#000000"]}}
         }},
        {"mark": {"type": "line", "opacity": 0},
         "encoding": {
           "x": {"field": "t", "type": "quantitative", "axis": {"orient": "top", "title": null, "labels": false, "grid": false, "values": [0, 5, 10]}},
           "y": {"field": "y", "type": "quantitative", "axis": {"orient": "right", "title": null, "labels": false, "grid": false, "values": [-1.5, -1, -0.5, 0, 0.5, 1, 1.5, 2]}}
         }}
      ],
      "resolve": {"axis": {"x": "independent", "y": "independent"}}
    }
  ]
}
